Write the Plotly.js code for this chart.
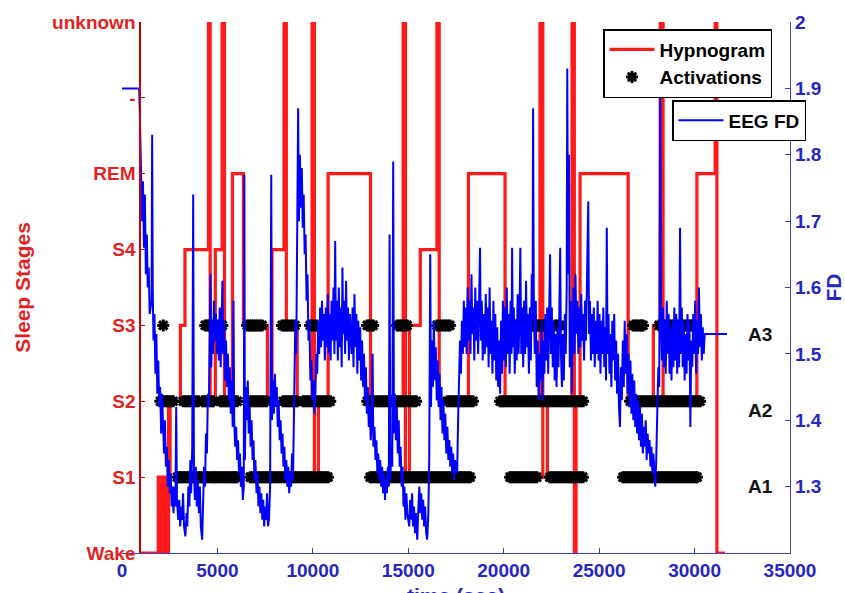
<!DOCTYPE html>
<html>
<head>
<meta charset="utf-8">
<script src="https://cdn.plot.ly/plotly-3.0.1.min.js"></script>
<style>html,body{margin:0;padding:0;background:#fff}#chart{width:845px;height:593px}</style>
</head>
<body>
<div id="chart"></div>
<script>
// ---------- tick labels ----------
const stageLevels = [0, 1, 2, 3, 4, 5, 6, 7];
const stageLabels = ['Wake', 'S1', 'S2', 'S3', 'S4', 'REM', '-', 'unknown'];
const activationLevels = [1, 2, 3];
const activationLabels = ['A1', 'A2', 'A3'];
const fdTickValues = [1.3, 1.4, 1.5, 1.6, 1.7, 1.8, 1.9, 2.0];
const fdTickLabels = ['1.3', '1.4', '1.5', '1.6', '1.7', '1.8', '1.9', '2'];
const timeTicks = [0, 5000, 10000, 15000, 20000, 25000, 30000, 35000];
const timeTitle = 'time (sec)';

// ---------- hypnogram (time in s, stage index) ----------
const hypTime = [900, 1900, 1950, 1990, 2040, 2080, 2130, 2170, 2220, 2260, 2310, 2350, 2400, 2440, 2480, 2520,
  3060, 3300, 4530, 4620, 4890, 5250, 5370, 5790, 6360, 7620, 7860, 8490, 8610, 9180, 9960, 10080, 10290, 10800,
  13020, 14730, 14850, 15060, 15630, 16500, 16620, 18150, 20070, 21900, 22050, 22290, 23580, 23700, 23790, 24000,
  26520, 27840, 28200, 28350, 30120, 31080, 31170, 31590];
const hypStage = [0, 1, 0, 1, 0, 1, 0, 1, 0, 1, 0, 1, 0, 2, 1, 2,
  3, 4, 7, 2, 4, 7, 2, 5, 3, 2, 4, 7, 3, 2, 7, 1, 2, 5,
  2, 7, 1, 3, 4, 7, 2, 5, 2, 7, 1, 2, 7, 0, 2, 5,
  2, 3, 7, 2, 5, 7, 0, 0];

// ---------- activations (time in s) per level ----------
const actA1Times = [2900, 3010, 3090, 3200, 3290, 3410, 3500, 3620, 3700, 3820, 3910, 4020, 4110, 4230, 4300, 4420, 4510, 4640, 4720, 4830, 4910, 5030, 5120, 5240, 5330, 5420, 5530, 5640, 5720, 5840, 5930, 6030,
  6720, 6830, 6940, 7040, 7150, 7240, 7360, 7450, 7560, 7650, 7770, 7860, 7980, 8070, 8190, 8280, 8390, 8500, 8610, 8700, 8820, 8910, 9030, 9120, 9240, 9330, 9450, 9540, 9660, 9750, 9870, 9960, 10080, 10170, 10290, 10380, 10500, 10590, 10700, 10790,
  13000, 13110, 13200, 13320, 13410, 13530, 13620, 13740, 13830, 13950, 14040, 14160, 14250, 14370, 14460, 14580, 14670, 14790, 14880, 15000, 15090, 15210, 15300, 15420, 15510, 15630, 15720, 15840, 15930, 16050, 16140, 16260, 16350, 16470, 16560, 16680, 16770, 16890, 16980, 17100, 17190, 17310, 17400, 17520, 17610, 17730, 17820, 17940, 18030, 18150, 18240,
  20330, 20440, 20560, 20650, 20770, 20860, 20980, 21070, 21190, 21280, 21400, 21490, 21610, 21730,
  22420, 22530, 22640, 22740, 22860, 22950, 23070, 23160, 23280, 23380, 23490, 23590, 23710, 23800, 23920, 24030, 24150,
  26250, 26360, 26470, 26570, 26680, 26780, 26890, 26990, 27100, 27200, 27310, 27410, 27520, 27620, 27730, 27830, 27940, 28040, 28150, 28250, 28360, 28460, 28570, 28670, 28780, 28880, 28990, 29090, 29200, 29300, 29410, 29510, 29620, 29720, 29830, 29930, 30040, 30130];
const actA2Times = [2010, 2120, 2230, 2340, 2450, 2560, 2680,
  3210, 3320, 3430, 3540, 3660, 3770, 3880, 3990,
  4210, 4320, 4440, 4550, 4670, 4780,
  5150, 5260, 5380, 5490, 5600, 5710, 5820, 5930, 6040,
  6560, 6670, 6780, 6890, 7000, 7110, 7230, 7340, 7450, 7560,
  8440, 8550, 8660, 8770, 8880, 8990, 9100, 9180,
  9490, 9600, 9710, 9830, 9940, 10050, 10160, 10270, 10380, 10490, 10600, 10710, 10820, 10910,
  12850, 12960, 13070, 13180, 13300, 13410, 13520, 13630, 13740, 13850, 13960, 14070, 14190, 14300, 14410, 14520, 14630, 14740, 14850, 14960, 15080, 15190, 15300, 15410,
  17040, 17150, 17260, 17380, 17490, 17600, 17710, 17820, 17940, 18050, 18160, 18270, 18390,
  19810, 19920, 20030, 20140, 20260, 20370, 20480, 20590, 20700, 20810, 20930, 21040, 21150, 21260, 21370, 21480, 21600, 21710, 21820, 21930, 22040, 22150, 22270, 22380, 22490, 22600, 22710, 22820, 22940, 23050, 23160, 23270, 23380, 23490, 23610, 23720, 23830, 23940, 24050, 24160,
  26620, 26730, 26840, 26960, 27070, 27180, 27290, 27400, 27510, 27630, 27740, 27850, 27960, 28070, 28180, 28300, 28410, 28520, 28630, 28740, 28850, 28970, 29080, 29190, 29300, 29410, 29520, 29640, 29750, 29860, 29970, 30080, 30190, 30290];
const actA3Times = [2160,
  4360, 4470, 4580, 4690,
  5040, 5150, 5260,
  6560, 6670, 6780, 6890, 7010, 7120, 7230, 7340,
  8390, 8500, 8610, 8720, 8840, 8950, 9060,
  9860, 9970, 10090, 10200,
  12850, 12960, 13070, 13160,
  14420, 14530, 14640, 14750, 14860, 14940,
  16510, 16620, 16730, 16850, 16960, 17070, 17180,
  20330, 20440, 20550, 20660, 20770, 20860, 21380, 21490, 21600, 21710, 21820, 21930, 22040, 22150, 22260, 22370, 22700, 22810, 22930,
  26780, 26890, 27000, 27110, 27220, 27300,
  28140, 28250, 28360, 28470, 28580, 28690, 28800, 28910, 29020, 29130, 29240, 29350, 29460, 29570, 29680, 29790, 29900];

// ---------- EEG fractal dimension [time s, FD] ----------
const fdSamples = [
  [0,1.90],[880,1.90],[900,1.90],[950,1.84],[1000,1.78],[1050,1.70],[1100,1.76],[1150,1.66],[1200,1.74],[1250,1.62],[1300,1.68],[1350,1.60],[1400,1.63],[1450,1.56],[1550,1.58],[1580,1.83],[1610,1.60],[1650,1.52],[1700,1.56],[1750,1.47],[1800,1.53],[1850,1.44],[1900,1.49],[1950,1.42],[2000,1.45],
  [2050,1.38],[2100,1.44],[2150,1.40],[2200,1.35],[2250,1.40],[2300,1.33],[2350,1.36],[2400,1.30],[2450,1.34],[2500,1.29],[2550,1.32],[2600,1.27],[2650,1.30],[2700,1.26],[2750,1.30],[2800,1.27],[2840,1.42],[2880,1.28],[2950,1.25],[3000,1.28],
  [3050,1.24],[3100,1.27],[3150,1.25],[3200,1.29],[3250,1.24],[3320,1.225],[3380,1.26],[3420,1.24],[3480,1.30],[3530,1.27],[3580,1.34],[3620,1.29],[3680,1.36],[3730,1.74],[3770,1.32],[3820,1.28],[3870,1.33],[3920,1.27],[3970,1.31],
  [4030,1.26],[4080,1.30],[4130,1.24],[4200,1.22],[4250,1.27],[4300,1.33],[4350,1.30],[4400,1.38],[4450,1.35],[4500,1.44],[4550,1.42],[4600,1.50],[4640,1.62],[4680,1.48],[4720,1.55],[4770,1.50],[4820,1.58],[4870,1.52],[4920,1.56],[4970,1.50],
  [5020,1.55],[5070,1.49],[5120,1.57],[5170,1.48],[5220,1.54],[5260,1.61],[5300,1.50],[5350,1.55],[5400,1.46],[5450,1.52],[5500,1.45],[5550,1.50],[5600,1.43],[5650,1.48],[5700,1.41],[5750,1.46],[5800,1.39],[5840,1.58],[5880,1.40],[5930,1.36],[5980,1.39],
  [6030,1.34],[6080,1.37],[6130,1.32],[6180,1.35],[6230,1.30],[6280,1.33],[6330,1.28],[6380,1.30],[6410,1.77],[6440,1.34],[6490,1.45],[6540,1.40],[6590,1.46],[6640,1.38],[6690,1.42],[6740,1.36],[6790,1.40],[6840,1.34],[6890,1.37],[6940,1.31],[6990,1.34],
  [7050,1.29],[7100,1.32],[7150,1.27],[7200,1.30],[7250,1.26],[7300,1.29],[7350,1.25],[7400,1.28],[7450,1.24],[7500,1.27],[7550,1.25],[7600,1.29],[7650,1.24],[7700,1.25],[7760,1.30],[7820,1.77],[7860,1.40],[7910,1.46],[7960,1.41],
  [8010,1.47],[8060,1.42],[8110,1.45],[8160,1.39],[8210,1.43],[8260,1.37],[8310,1.40],[8360,1.35],[8410,1.38],[8460,1.33],[8510,1.36],[8560,1.31],[8610,1.34],[8660,1.30],[8710,1.33],[8760,1.29],[8810,1.32],[8860,1.30],[8910,1.35],[8960,1.31],
  [9020,1.40],[9080,1.55],[9130,1.50],[9180,1.66],[9230,1.87],[9270,1.70],[9320,1.80],[9370,1.72],[9420,1.78],[9470,1.69],[9520,1.74],[9570,1.65],[9620,1.68],[9670,1.58],[9720,1.62],[9770,1.52],[9820,1.55],[9870,1.46],[9920,1.49],[9970,1.43],
  [10030,1.46],[10080,1.41],[10130,1.44],[10180,1.50],[10230,1.47],[10280,1.55],[10330,1.50],[10380,1.57],[10430,1.51],[10480,1.58],[10530,1.52],[10580,1.56],[10630,1.49],[10680,1.57],[10730,1.51],[10780,1.59],[10830,1.50],[10880,1.56],[10930,1.49],[10980,1.58],
  [11030,1.52],[11080,1.60],[11130,1.50],[11170,1.67],[11210,1.52],[11260,1.58],[11310,1.49],[11360,1.60],[11410,1.51],[11460,1.57],[11510,1.48],[11550,1.63],[11590,1.53],[11640,1.58],[11690,1.50],[11740,1.61],[11790,1.52],[11840,1.57],[11890,1.49],[11940,1.56],
  [12030,1.50],[12080,1.57],[12130,1.48],[12180,1.59],[12230,1.51],[12280,1.56],[12330,1.47],[12380,1.55],[12430,1.49],[12480,1.54],[12530,1.46],[12580,1.52],[12630,1.45],[12680,1.50],[12730,1.43],[12780,1.48],[12830,1.41],[12880,1.45],[12930,1.39],[12980,1.42],
  [13030,1.37],[13080,1.40],[13130,1.50],[13170,1.36],[13230,1.39],[13280,1.34],[13330,1.37],[13380,1.32],[13430,1.35],[13480,1.31],[13530,1.34],[13580,1.30],[13630,1.33],[13680,1.29],[13730,1.32],[13780,1.28],[13830,1.31],[13880,1.29],[13930,1.33],[13980,1.30],
  [14020,1.68],[14060,1.31],[14110,1.36],[14160,1.33],[14210,1.79],[14250,1.38],[14300,1.44],[14350,1.37],[14400,1.42],[14450,1.35],[14500,1.40],[14550,1.33],[14600,1.36],[14650,1.30],[14700,1.33],[14750,1.27],[14800,1.30],[14850,1.25],[14900,1.29],[14950,1.26],
  [15050,1.24],[15100,1.28],[15150,1.25],[15200,1.29],[15250,1.24],[15300,1.27],[15350,1.23],[15400,1.26],[15470,1.22],[15530,1.27],[15580,1.30],[15630,1.26],[15680,1.29],[15730,1.25],[15780,1.28],[15830,1.24],[15880,1.27],[15940,1.23],[15990,1.22],
  [16050,1.26],[16100,1.35],[16150,1.65],[16190,1.42],[16240,1.52],[16290,1.45],[16340,1.55],[16390,1.46],[16440,1.51],[16490,1.43],[16540,1.49],[16590,1.42],[16640,1.47],[16690,1.40],[16740,1.45],[16790,1.38],[16840,1.43],[16890,1.37],[16940,1.41],[16990,1.35],
  [17050,1.39],[17100,1.34],[17150,1.37],[17200,1.33],[17250,1.36],[17300,1.32],[17350,1.35],[17400,1.31],[17450,1.34],[17500,1.33],[17560,1.32],[17610,1.40],[17660,1.48],[17710,1.52],[17760,1.47],[17810,1.55],[17860,1.50],[17910,1.58],[17960,1.51],
  [18010,1.57],[18060,1.50],[18110,1.60],[18160,1.52],[18210,1.58],[18260,1.50],[18310,1.62],[18360,1.53],[18410,1.57],[18460,1.49],[18510,1.60],[18560,1.52],[18610,1.58],[18660,1.50],[18710,1.56],[18760,1.66],[18800,1.52],[18850,1.58],[18900,1.49],[18950,1.56],
  [19010,1.50],[19060,1.59],[19110,1.51],[19160,1.57],[19210,1.48],[19260,1.60],[19310,1.50],[19360,1.55],[19410,1.47],[19460,1.58],[19510,1.49],[19560,1.56],[19610,1.46],[19660,1.54],[19710,1.45],[19760,1.52],[19810,1.44],[19860,1.55],[19910,1.47],[19960,1.58],
  [20010,1.49],[20060,1.57],[20110,1.48],[20160,1.60],[20210,1.50],[20260,1.56],[20310,1.47],[20360,1.58],[20410,1.50],[20440,1.66],[20480,1.51],[20530,1.57],[20580,1.47],[20630,1.55],[20680,1.49],[20730,1.59],[20780,1.50],[20830,1.56],[20870,1.66],[20920,1.50],[20970,1.57],
  [21020,1.48],[21070,1.58],[21120,1.50],[21170,1.61],[21220,1.51],[21270,1.56],[21320,1.47],[21370,1.57],[21420,1.49],[21470,1.62],[21510,1.55],[21540,1.87],[21580,1.56],[21630,1.50],[21680,1.58],[21730,1.45],[21780,1.52],[21830,1.43],[21880,1.50],[21930,1.46],[21980,1.55],
  [22030,1.43],[22080,1.52],[22130,1.47],[22180,1.56],[22230,1.49],[22280,1.57],[22330,1.47],[22380,1.55],[22430,1.65],[22470,1.50],[22520,1.57],[22570,1.48],[22620,1.55],[22670,1.46],[22720,1.53],[22770,1.45],[22820,1.54],[22870,1.48],[22920,1.56],[22960,1.66],
  [23000,1.50],[23050,1.45],[23100,1.53],[23150,1.46],[23200,1.56],[23250,1.50],[23300,1.60],[23330,1.93],[23370,1.62],[23420,1.80],[23460,1.48],[23510,1.58],[23560,1.44],[23610,1.55],[23660,1.60],[23710,1.50],[23760,1.62],[23810,1.53],[23860,1.58],[23910,1.50],[23960,1.57],
  [24010,1.51],[24060,1.59],[24110,1.52],[24160,1.56],[24210,1.49],[24260,1.58],[24310,1.52],[24360,1.60],[24430,1.73],[24470,1.53],[24520,1.58],[24570,1.49],[24620,1.56],[24670,1.50],[24720,1.57],[24770,1.48],[24820,1.55],[24870,1.50],[24920,1.58],[24970,1.49],
  [25020,1.56],[25070,1.47],[25120,1.55],[25170,1.50],[25220,1.57],[25270,1.48],[25320,1.54],[25360,1.46],[25400,1.69],[25440,1.50],[25490,1.56],[25540,1.47],[25590,1.53],[25640,1.45],[25690,1.55],[25740,1.49],[25790,1.56],[25840,1.46],[25890,1.52],[25940,1.44],[25990,1.50],
  [26040,1.42],[26090,1.39],[26140,1.48],[26190,1.43],[26240,1.52],[26290,1.45],[26340,1.55],[26390,1.47],[26440,1.53],[26490,1.44],[26540,1.50],[26590,1.42],[26640,1.49],[26690,1.41],[26740,1.47],[26790,1.40],[26840,1.46],[26890,1.39],[26940,1.44],[26990,1.38],
  [27040,1.43],[27090,1.37],[27140,1.42],[27190,1.36],[27240,1.41],[27290,1.35],[27340,1.39],[27390,1.36],[27440,1.40],[27490,1.34],[27540,1.38],[27590,1.35],[27640,1.37],[27690,1.33],[27740,1.36],[27790,1.32],[27840,1.35],[27890,1.31],[27940,1.30],[27990,1.34],
  [28050,1.40],[28100,1.48],[28150,1.45],[28200,1.92],[28240,1.55],[28290,1.49],[28340,1.57],[28390,1.48],[28440,1.55],[28490,1.47],[28540,1.58],[28590,1.50],[28640,1.56],[28690,1.47],[28740,1.54],[28790,1.46],[28840,1.55],[28890,1.48],[28940,1.57],[28990,1.49],
  [29040,1.56],[29090,1.47],[29140,1.55],[29190,1.48],[29240,1.69],[29280,1.50],[29330,1.57],[29380,1.48],[29430,1.55],[29480,1.46],[29530,1.53],[29580,1.47],[29630,1.56],[29680,1.49],[29730,1.55],[29780,1.39],[29830,1.52],[29880,1.48],[29930,1.56],[29980,1.50],
  [30030,1.58],[30080,1.47],[30130,1.55],[30180,1.50],[30230,1.60],[30280,1.51],[30330,1.56],[30380,1.49],[30430,1.54],[30480,1.50],[30530,1.53],[31700,1.53]
];

// ---------- build traces ----------
const FONT = 'Liberation Sans, Arial, Helvetica, sans-serif';
const RED = '#ff1a1a', RED_TXT = '#e41f1f', RED_AXIS = '#c40000';
const BLUE = '#0000ff', BLUE_TXT = '#2626c4', BLUE_AXIS = '#4040b0';

const actX = [].concat(actA1Times, actA2Times, actA3Times);
const actY = [].concat(actA1Times.map(() => activationLevels[0]),
                       actA2Times.map(() => activationLevels[1]),
                       actA3Times.map(() => activationLevels[2]));

const traces = [
  {name: 'Hypnogram', x: hypTime, y: hypStage, xaxis: 'x', yaxis: 'y', type: 'scatter', mode: 'lines',
   line: {color: RED, width: 3.2, shape: 'hv'}, legend: 'legend'},
  {name: 'Activations', x: actX, y: actY, xaxis: 'x', yaxis: 'y2', type: 'scatter', mode: 'markers',
   marker: {symbol: 'asterisk-open', size: 10, color: '#000', line: {color: '#000', width: 3}}, legend: 'legend'},
  {name: 'EEG FD', x: fdSamples.map(p => p[0]), y: fdSamples.map(p => p[1]), xaxis: 'x', yaxis: 'y3',
   type: 'scatter', mode: 'lines', line: {color: BLUE, width: 2}, legend: 'legend2'}
];

// ---------- layout ----------
const ML = 122, MR = 55, MT = 22, MB = 40, W = 845, H = 593;
const PW = W - ML - MR, PH = H - MT - MB;
const redAxisPos = (139.3 - ML) / PW;
const actAxisPos = (727 - ML) / PW;
const bold = (size, color) => ({family: FONT, size: size, color: color, weight: 'bold'});

const layout = {
  width: W, height: H,
  margin: {l: ML, r: MR, t: MT, b: MB, pad: 0},
  paper_bgcolor: '#fff', plot_bgcolor: '#fff',
  showlegend: true,
  xaxis: {
    domain: [0, 1], anchor: 'y', range: [0, 35000], tickvals: timeTicks, ticktext: timeTicks.map(String),
    ticks: 'inside', ticklen: 5, tickcolor: BLUE_AXIS, tickwidth: 1,
    showline: true, linecolor: BLUE_AXIS, linewidth: 1.3, mirror: false,
    showgrid: false, zeroline: false, automargin: false,
    tickfont: bold(19, BLUE_TXT)
  },
  yaxis: {
    domain: [0, 1], anchor: 'free', position: redAxisPos, side: 'left', range: [0, 7],
    tickvals: stageLevels, ticktext: stageLabels,
    ticks: 'inside', ticklen: 4, tickcolor: RED_AXIS,
    showline: true, linecolor: RED_AXIS, linewidth: 1.2,
    showgrid: false, zeroline: false, automargin: false,
    tickfont: bold(19, RED_TXT),
    title: {text: 'Sleep Stages', font: bold(21, RED_TXT), standoff: 14}
  },
  yaxis2: {
    overlaying: 'y', anchor: 'free', position: actAxisPos, side: 'right', range: [0, 7],
    tickvals: activationLevels, ticktext: activationLabels,
    ticks: '', showline: false, showgrid: false, zeroline: false, automargin: false,
    ticklabelshift: 9, ticklabelstandoff: 20,
    tickfont: bold(19, '#111')
  },
  yaxis3: {
    overlaying: 'y', anchor: 'x', side: 'right', range: [1.2, 2.0],
    tickvals: fdTickValues, ticktext: fdTickLabels,
    ticks: 'inside', ticklen: 5, tickcolor: BLUE_AXIS,
    showline: true, linecolor: BLUE_AXIS, linewidth: 1.2,
    showgrid: false, zeroline: false, automargin: false,
    tickfont: bold(19, BLUE_TXT),
    title: {text: 'FD', font: bold(21, BLUE_TXT), standoff: 8}
  },
  annotations: [{
    text: timeTitle, xref: 'paper', yref: 'paper', x: 0.5, y: (H - MB - 595) / PH,
    xanchor: 'center', yanchor: 'middle', showarrow: false, font: bold(21, BLUE_TXT)
  }],
  legend: {
    x: (603 - ML) / PW, y: (H - MB - 29) / PH, xanchor: 'left', yanchor: 'top',
    bgcolor: '#fff', bordercolor: '#000', borderwidth: 1.5,
    font: bold(19, '#000'), itemwidth: 45, tracegroupgap: 0
  },
  legend2: {
    x: (672 - ML) / PW, y: (H - MB - 100) / PH, xanchor: 'left', yanchor: 'top',
    bgcolor: '#fff', bordercolor: '#000', borderwidth: 1.5,
    font: bold(19, '#000'), itemwidth: 45
  }
};

Plotly.newPlot('chart', traces, layout, {displayModeBar: false, staticPlot: true});
</script>
</body>
</html>
